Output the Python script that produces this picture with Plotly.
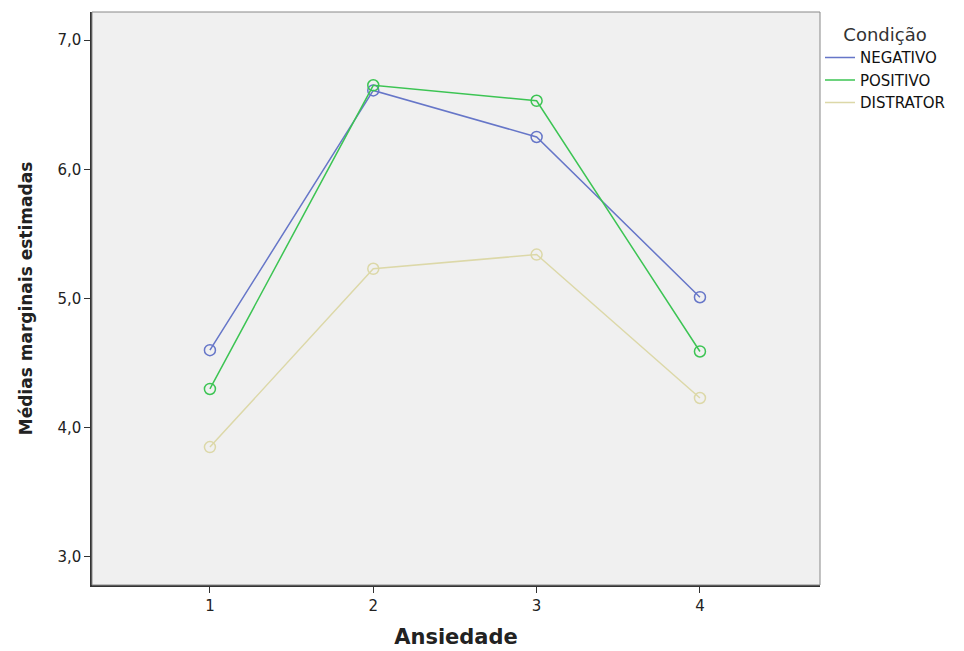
import plotly.graph_objects as go

x_levels = [1, 2, 3, 4]
negativo = [4.60, 6.61, 6.25, 5.01]
positivo = [4.30, 6.65, 6.53, 4.59]
distrator = [3.85, 5.23, 5.34, 4.23]
series_names = ["NEGATIVO", "POSITIVO", "DISTRATOR"]
colors = ["#6676c8", "#3cc453", "#dcd8a8"]
y_ticks = [3.0, 4.0, 5.0, 6.0, 7.0]
y_tick_labels = ["3,0", "4,0", "5,0", "6,0", "7,0"]

FONT = "DejaVu Sans, Liberation Sans, sans-serif"

fig = go.Figure()
for name, vals, c in zip(series_names, [negativo, positivo, distrator], colors):
    fig.add_trace(go.Scatter(
        x=x_levels, y=vals, name=name, mode="lines+markers", showlegend=False,
        line=dict(color=c, width=1.5),
        marker=dict(symbol="circle-open", size=11, color=c, line=dict(width=1.5)),
    ))
# legend entries: line only
for name, c in zip(series_names, colors):
    fig.add_trace(go.Scatter(
        x=[None], y=[None], name=name, mode="lines",
        line=dict(color=c, width=1.5), showlegend=True,
    ))

fig.update_layout(
    width=964, height=651,
    paper_bgcolor="white", plot_bgcolor="#f0f0f0",
    margin=dict(l=84, r=152, t=4, b=74),
    font=dict(family=FONT, color="#222"),
    legend=dict(
        title=dict(text="Condição", font=dict(size=18, color="#333"), side="top center"),
        x=1.0, xanchor="left", y=0.99, yanchor="top",
        font=dict(size=15, color="#111"),
        bgcolor="rgba(0,0,0,0)", tracegroupgap=0, itemwidth=30,
    ),
    xaxis=dict(
        range=[0.278, 4.735], tickvals=x_levels, ticktext=[str(v) for v in x_levels],
        ticks="outside", ticklen=6, tickcolor="#333", showgrid=False, zeroline=False,
        showline=True, linecolor="#333", linewidth=1.5,
        tickfont=dict(size=15),
        title=dict(text="<b>Ansiedade</b>", font=dict(size=21, color="#222"), standoff=16),
    ),
    yaxis=dict(
        range=[2.783, 7.217], tickvals=y_ticks, ticktext=y_tick_labels,
        ticks="outside", ticklen=6, tickcolor="#333", showgrid=False, zeroline=False,
        showline=True, linecolor="#333", linewidth=1.5,
        tickfont=dict(size=15),
        title=dict(text="<b>Médias marginais estimadas</b>", font=dict(size=17, color="#222"), standoff=20),
    ),
)
fig.add_shape(type="rect", xref="paper", yref="paper", x0=0, y0=0, x1=1, y1=1,
              line=dict(color="#888", width=1), fillcolor="rgba(0,0,0,0)", layer="above")

fig.write_html("out.html")
